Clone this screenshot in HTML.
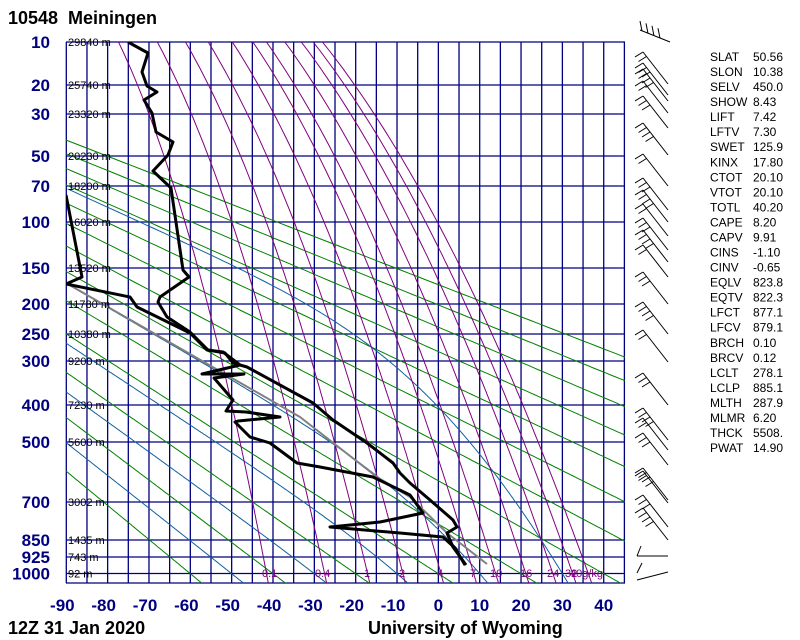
<!DOCTYPE html>
<html><head><meta charset="utf-8"><style>
html,body{margin:0;padding:0;background:#fff;width:800px;height:640px;overflow:hidden}
svg{display:block}
.pl{font:bold 17px "Liberation Sans",sans-serif;fill:#000080}
.hl{font:11px "Liberation Sans",sans-serif;fill:#000}
.mr{font:11px "Liberation Sans",sans-serif;fill:#800080}
.tb{font:12px "Liberation Sans",sans-serif;fill:#000}
.tt{font:bold 18px "Liberation Sans",sans-serif;fill:#000;white-space:pre}
</style></head><body>
<svg id="s" width="800" height="640" xmlns="http://www.w3.org/2000/svg">
<defs><clipPath id="c"><rect x="66" y="42" width="559" height="541"/></clipPath></defs>
<g id="grid"></g>
<g id="curves" clip-path="url(#c)"></g>
<g id="data" clip-path="url(#c)"></g>
<g id="lab"></g>
<text class="tt" x="8" y="24" xml:space="preserve">10548  Meiningen</text>
<text class="tt" x="8" y="634">12Z 31 Jan 2020</text>
<text class="tt" x="368" y="634">University of Wyoming</text>
</svg>
<script>
var NS="http://www.w3.org/2000/svg";
function el(p,t,a,txt){var e=document.createElementNS(NS,t);for(var k in a)e.setAttribute(k,a[k]);if(txt!==undefined)e.textContent=txt;p.appendChild(e);return e;}
function X(T){return 438.4+4.134*T;}
function Y(p){return 573.7-100.9*(7.211-Math.pow(p,0.286));}
var G=document.getElementById('grid'),C=document.getElementById('curves'),D=document.getElementById('data'),L=document.getElementById('lab');
function poly(par,pts,col,w){el(par,'polyline',{points:pts.map(function(q){return q[0].toFixed(1)+','+q[1].toFixed(1)}).join(' '),fill:'none',stroke:col,'stroke-width':w,'stroke-linejoin':'round'});}
for(var th=-60;th<=180;th+=20){var pts=[];for(var p=1060;p>=8;p-=4){var T=(th+273.15)*Math.pow(p/1000,0.286)-273.15;pts.push([X(T),Y(p)]);}poly(C,pts,'#008000',1);}
function es(T){return 6.112*Math.exp(17.67*T/(T+243.5));}
[-50,-30,-10,10,30].forEach(function(t0){var T=t0+273.15,pts=[];var p=1000;
 var Td=T;var down=[];
 for(var q=1000;q<1060;q+=2){var rs=0.622*es(Td-273.15)/(q-es(Td-273.15));var dT=(287*Td+2.5e6*rs)/(q*(1004+2.5e6*2.5e6*rs*0.622/(287*Td*Td)));Td+=dT*2;down.push([X(Td-273.15),Y(q+2)]);}
 down.reverse();pts=down.slice();
 while(p>70){var e=es(T-273.15);var rs=0.622*e/(p-e);var dT=(287*T+2.5e6*rs)/(p*(1004+2.5e6*2.5e6*rs*0.622/(287*T*T)));pts.push([X(T-273.15),Y(p)]);T-=dT*2;p-=2;}
 poly(C,pts,'#1060a0',1);});
[0.1,0.4,1,2,4,7,10,16,24,32,40].forEach(function(w){var pts=[];for(var p=1060;p>=8;p-=4){var e=w*p/(622+w);var l=Math.log(e/6.112);var Td=243.5*l/(17.67-l);pts.push([X(Td),Y(p)]);}poly(C,pts,'#800080',1);});
for(var i=0;i<=27;i++){var x=66.3+i*20.67;if(x>625)x=624.5;el(G,'line',{x1:x,y1:42,x2:x,y2:583,stroke:'#000080','stroke-width':1.3});}
var lev=[[10,42,'29840 m'],[20,85,'25740 m'],[30,114,'23320 m'],[50,156,'20230 m'],[70,186,'18200 m'],[100,222,'16020 m'],[150,268,'13520 m'],[200,304,'11780 m'],[250,334,'10380 m'],[300,361,'9200 m'],[400,405,'7230 m'],[500,442,'5600 m'],[700,502,'3002 m'],[850,540,'1435 m'],[925,557,'743 m'],[1000,573.5,'92 m']];
el(G,'line',{x1:66,y1:583,x2:625,y2:583,stroke:'#000080','stroke-width':1.3});
lev.forEach(function(l){el(G,'line',{x1:66,y1:l[1],x2:625,y2:l[1],stroke:'#000080','stroke-width':1.3});
 el(L,'text',{'class':'pl',x:50,y:l[1]+6,'text-anchor':'end'},String(l[0]));
 el(L,'text',{'class':'hl',x:68,y:l[1]+4},l[2]);});
for(var t=-90;t<=40;t+=10){el(L,'text',{'class':'pl',x:X(t)-(t<0?4:0),y:611,'text-anchor':'middle'},String(t));}
[[0.1,262],[0.4,315],[1,364],[2,399],[4,437],[7,470],[10,490],[16,520],[24,547],[32,565],[40,570]].forEach(function(m){el(L,'text',{'class':'mr',x:m[1],y:577},m[0]===40?'40g/kg':String(m[0]));});
var temp=[[128,42],[148,53],[142,72],[147,86],[157,92],[144,100],[152,113],[156,132],[173,142],[168,155],[153,171],[171,188],[183,270],[189,277],[160,297],[158,302],[167,317],[190,332],[208,350],[225,353],[233,363],[247,367],[313,403],[333,420],[367,443],[393,463],[400,473],[410,483],[430,500],[453,520],[457,527],[447,533],[453,547],[466,565]];
var dew=[[66,195],[82,277],[66,284],[130,297],[137,307],[190,333],[207,350],[223,352],[240,365],[202,374],[244,374],[214,378],[233,400],[226,411],[246,412],[280,417],[238,421],[235,422],[250,437],[270,443],[297,463],[320,467],[373,477],[410,495],[423,513],[380,522],[330,527],[400,533],[443,537],[455,548],[465,565]];
var par=[[66,283],[300,417],[377,477],[410,497],[447,533],[487,564]];
poly(D,par,'#808080',2);
poly(D,temp,'#000',3);poly(D,dew,'#000',3);
var bar=[84,95,101,113,128,155,186,210,222,236,250,262,277,304,334,362,405,440,450,465,500,503,527,540];
el(L,'line',{x1:670,y1:42,x2:640,y2:30,stroke:'#000','stroke-width':1});
for(var k=0;k<4;k++){var bx=642+k*6,by=31+k*2.4;el(L,'line',{x1:bx,y1:by,x2:bx-2,y2:by-10,stroke:'#000','stroke-width':1});}
bar.forEach(function(y,i){var x0=668,x1=643,y1=y-32;
 el(L,'line',{x1:x0,y1:y,x2:x1,y2:y1,stroke:'#000','stroke-width':1});
 var n=2+(i%3);
 for(var k=0;k<n;k++){var bx=x1+k*3.5,by=y1+k*4.5;el(L,'line',{x1:bx,y1:by,x2:bx-8,y2:by+5,stroke:'#000','stroke-width':1});}
});
el(L,'line',{x1:668,y1:556,x2:637,y2:556,stroke:'#000','stroke-width':1});
el(L,'line',{x1:637,y1:556,x2:641,y2:546,stroke:'#000','stroke-width':1});
el(L,'line',{x1:668,y1:572,x2:637,y2:580,stroke:'#000','stroke-width':1});
el(L,'line',{x1:637,y1:573,x2:642,y2:563,stroke:'#000','stroke-width':1});
var tb=[['SLAT','50.56'],['SLON','10.38'],['SELV','450.0'],['SHOW','8.43'],['LIFT','7.42'],['LFTV','7.30'],['SWET','125.9'],['KINX','17.80'],['CTOT','20.10'],['VTOT','20.10'],['TOTL','40.20'],['CAPE','8.20'],['CAPV','9.91'],['CINS','-1.10'],['CINV','-0.65'],['EQLV','823.8'],['EQTV','822.3'],['LFCT','877.1'],['LFCV','879.1'],['BRCH','0.10'],['BRCV','0.12'],['LCLT','278.1'],['LCLP','885.1'],['MLTH','287.9'],['MLMR','6.20'],['THCK','5508.'],['PWAT','14.90']];
tb.forEach(function(r,i){var y=61+i*15.04;el(L,'text',{'class':'tb',x:710,y:y},r[0]);el(L,'text',{'class':'tb',x:753,y:y},r[1]);});
</script>
</body></html>
